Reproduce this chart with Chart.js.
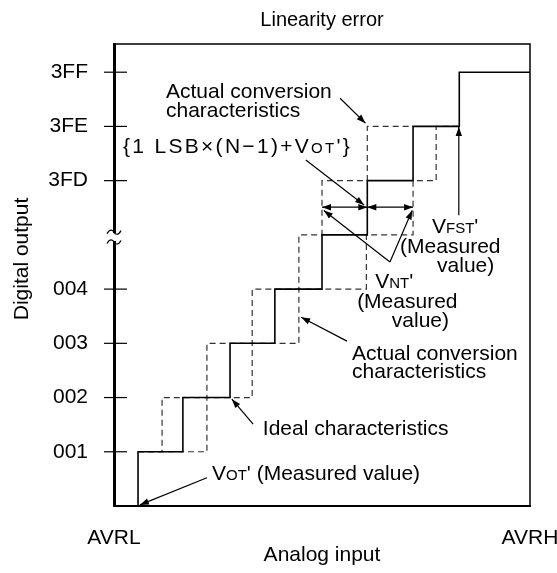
<!DOCTYPE html>
<html>
<head>
<meta charset="utf-8">
<title>Linearity error</title>
<script src="https://cdn.jsdelivr.net/npm/chart.js@4.4.1/dist/chart.umd.min.js"></script>
<style>
  html, body { margin: 0; padding: 0; background: #fff; }
  #wrap { width: 557px; height: 573px; position: relative; }
</style>
</head>
<body>
<div id="wrap"><canvas id="lineChart"></canvas></div>
<script>
// ==================== DATA ====================
// x = analog input in LSB from AVRL, y = output code index (0 = 000)
const codeLevels = [1, 2, 3, 4, 6, 7, 8];
const codeLabels = ["001", "002", "003", "004", "3FD", "3FE", "3FF"];
const xLabels = ["AVRL", "AVRH"];
const X_MAX = 9;
const Y_MAX = 8.52;

// Ideal characteristics (solid)
const idealX = [0, 0.52, 1.49, 2.51, 3.48, 4.5, 5.48, 6.47, 7.47, 9];
const idealCode = [0, 1, 2, 3, 4, 5, 6, 7, 8, 8];

// Actual conversion characteristics (dashed), early and late edges
const actualLowX = [0.52, 1.04, 2.01, 2.99, 4.0, 4.5, 5.48, 6.47];
const actualLowCode = [1, 2, 3, 4, 5, 6, 7, 7];
const actualHighX = [0.52, 2.01, 2.99, 4.0, 5.46, 6.47, 6.97, 7.47];
const actualHighCode = [1, 2, 3, 4, 5, 6, 7, 7];

const FONT = '"Liberation Sans", Arial, Helvetica, sans-serif';
const FS = 21;
const SUB = 15;

// Annotations (data units)
const arrows = [
  { from: [4.89, 7.52], to: [5.44, 7.06] },
  { from: [4.15, 6.38], to: [5.41, 5.55] },
  { from: [4.5, 5.51], to: [5.48, 5.51], both: true },
  { from: [5.48, 5.51], to: [6.47, 5.51], both: true },
  { from: [5.97, 4.5], to: [4.54, 5.45] },
  { from: [5.97, 4.5], to: [6.45, 5.45] },
  { from: [7.46, 5.36], to: [7.46, 6.99] },
  { from: [5.04, 3.04], to: [4.05, 3.48] },
  { from: [3.01, 1.51], to: [2.55, 1.97] },
  { from: [2.01, 0.52], to: [0.56, 0.02] },
];

const notes = [
  { at: [1.125, 7.52], parts: [["Actual conversion", FS]] },
  { at: [1.125, 7.17], parts: [["characteristics", FS]] },
  { at: [0.195, 6.51], parts: [["{1 LSB\u00d7(N\u22121)+V", FS], ["OT", SUB], ["'}", FS]], spacing: 2.3 },
  { at: [6.88, 5.03], parts: [["V", FS], ["FST", SUB], ["'", FS]] },
  { at: [6.19, 4.66], parts: [["(Measured", FS]] },
  { at: [6.99, 4.31], parts: [["value)", FS]] },
  { at: [5.65, 4.02], parts: [["V", FS], ["NT", SUB], ["'", FS]] },
  { at: [5.26, 3.65], parts: [["(Measured", FS]] },
  { at: [6.01, 3.3], parts: [["value)", FS]] },
  { at: [5.15, 2.69], parts: [["Actual conversion", FS]] },
  { at: [5.15, 2.36], parts: [["characteristics", FS]] },
  { at: [3.22, 1.31], parts: [["Ideal characteristics", FS]] },
  { at: [2.12, 0.48], parts: [["V", FS], ["OT", SUB], ["' (Measured value)", FS]] },
];

function toPoints(xs, ys) {
  return xs.map((x, i) => ({ x: x, y: ys[i] }));
}

function drawHead(ctx, x1, y1, x2, y2) {
  const a = Math.atan2(y2 - y1, x2 - x1);
  const L = 9, W = 3.2;
  ctx.beginPath();
  ctx.moveTo(x2, y2);
  ctx.lineTo(x2 - L * Math.cos(a) + W * Math.sin(a), y2 - L * Math.sin(a) - W * Math.cos(a));
  ctx.lineTo(x2 - L * Math.cos(a) - W * Math.sin(a), y2 - L * Math.sin(a) + W * Math.cos(a));
  ctx.closePath();
  ctx.fill();
}

function drawTilde(ctx, cx, y) {
  ctx.beginPath();
  ctx.moveTo(cx - 7, y + 1.5);
  ctx.bezierCurveTo(cx - 4, y - 4, cx - 1, y - 2, cx, y);
  ctx.bezierCurveTo(cx + 1, y + 2, cx + 4, y + 4, cx + 7, y - 1.5);
  ctx.stroke();
}

// ==================== DIAGRAM PLUGIN ====================
const diagramPlugin = {
  id: "diagram",
  afterDraw(chart) {
    const { ctx, chartArea: area, scales } = chart;
    const X = (v) => scales.x.getPixelForValue(v);
    const Y = (v) => scales.y.getPixelForValue(v);

    ctx.save();
    ctx.strokeStyle = "#000";
    ctx.fillStyle = "#000";

    // frame (top / right)
    ctx.lineWidth = 1.5;
    ctx.beginPath();
    ctx.moveTo(area.left, area.top);
    ctx.lineTo(area.right, area.top);
    ctx.lineTo(area.right, area.bottom);
    ctx.stroke();

    // y tick crosses
    ctx.lineWidth = 1.2;
    scales.y.ticks.forEach((t) => {
      const y = Y(t.value);
      ctx.beginPath();
      ctx.moveTo(area.left - 10, y);
      ctx.lineTo(area.left + 13, y);
      ctx.stroke();
    });

    // axis break between 004 and 3FD
    const b1 = Y(5.05), b2 = Y(4.87);
    ctx.fillStyle = "#fff";
    ctx.fillRect(area.left - 3, b1 + 1, 6, b2 - b1 - 2);
    ctx.fillStyle = "#000";
    ctx.lineWidth = 1.2;
    drawTilde(ctx, area.left, b1);
    drawTilde(ctx, area.left, b2);

    // arrows
    ctx.lineWidth = 1.2;
    arrows.forEach((a) => {
      const x1 = X(a.from[0]), y1 = Y(a.from[1]);
      const x2 = X(a.to[0]), y2 = Y(a.to[1]);
      ctx.beginPath();
      ctx.moveTo(x1, y1);
      ctx.lineTo(x2, y2);
      ctx.stroke();
      drawHead(ctx, x1, y1, x2, y2);
      if (a.both) drawHead(ctx, x2, y2, x1, y1);
    });

    // texts
    ctx.textBaseline = "alphabetic";
    ctx.textAlign = "left";
    notes.forEach((n) => {
      ctx.letterSpacing = (n.spacing || 0) + "px";
      let cx = X(n.at[0]);
      const y = Y(n.at[1]);
      n.parts.forEach(([txt, size]) => {
        ctx.font = size + "px " + FONT;
        ctx.fillText(txt, cx, y);
        cx += ctx.measureText(txt).width;
      });
    });
    ctx.letterSpacing = "0px";

    // y axis title
    ctx.font = FS + "px " + FONT;
    ctx.textAlign = "center";
    ctx.translate(28, 259);
    ctx.rotate(-Math.PI / 2);
    ctx.fillText("Digital output", 0, 0);
    ctx.restore();
  },
};

// ==================== CHART ====================
new Chart(document.getElementById("lineChart"), {
  type: "line",
  data: {
    datasets: [
      {
        label: "Ideal characteristics",
        data: toPoints(idealX, idealCode),
        stepped: "before",
        borderColor: "#000",
        borderWidth: 1.6,
        pointRadius: 0,
        fill: false,
      },
      {
        label: "Actual conversion characteristics",
        data: toPoints(actualLowX, actualLowCode),
        stepped: "before",
        borderColor: "#333",
        borderWidth: 1.2,
        borderDash: [6, 4],
        pointRadius: 0,
        fill: false,
      },
      {
        label: "Actual conversion characteristics",
        data: toPoints(actualHighX, actualHighCode),
        stepped: "before",
        borderColor: "#333",
        borderWidth: 1.2,
        borderDash: [6, 4],
        pointRadius: 0,
        fill: false,
      },
    ],
  },
  options: {
    responsive: true,
    maintainAspectRatio: false,
    animation: false,
    layout: { padding: { left: 0, right: 27, top: 0, bottom: 0 } },
    plugins: {
      legend: { display: false },
      tooltip: { enabled: false },
      title: {
        display: true,
        text: "Linearity error",
        fullSize: false,
        color: "#000",
        font: { family: FONT, size: 20, weight: "normal" },
        padding: { top: 8, bottom: 12 },
      },
    },
    scales: {
      x: {
        type: "linear",
        min: 0,
        max: X_MAX,
        grid: { display: false },
        border: { color: "#000", width: 2 },
        afterBuildTicks: (scale) => {
          scale.ticks = [{ value: 0 }, { value: X_MAX }];
        },
        ticks: {
          color: "#000",
          font: { family: FONT, size: FS },
          padding: 12,
          maxRotation: 0,
          autoSkip: false,
          callback: (value) => (value === 0 ? xLabels[0] : xLabels[1]),
        },
        title: {
          display: true,
          text: "Analog input",
          color: "#000",
          font: { family: FONT, size: FS },
          padding: { top: 0, bottom: 5 },
        },
        afterFit: (scale) => {
          scale.height = 67;
          scale.paddingLeft = 0;
          scale.paddingRight = 0;
        },
      },
      y: {
        type: "linear",
        min: 0,
        max: Y_MAX,
        grid: { display: false },
        border: { color: "#000", width: 3 },
        afterBuildTicks: (scale) => {
          scale.ticks = codeLevels.map((v) => ({ value: v }));
        },
        ticks: {
          color: "#000",
          font: { family: FONT, size: FS },
          padding: 18,
          autoSkip: false,
          callback: (value) => codeLabels[codeLevels.indexOf(value)] || "",
        },
        afterFit: (scale) => {
          scale.width = 114;
          scale.paddingTop = 0;
          scale.paddingBottom = 0;
        },
      },
    },
  },
  plugins: [diagramPlugin],
});
</script>
</body>
</html>
